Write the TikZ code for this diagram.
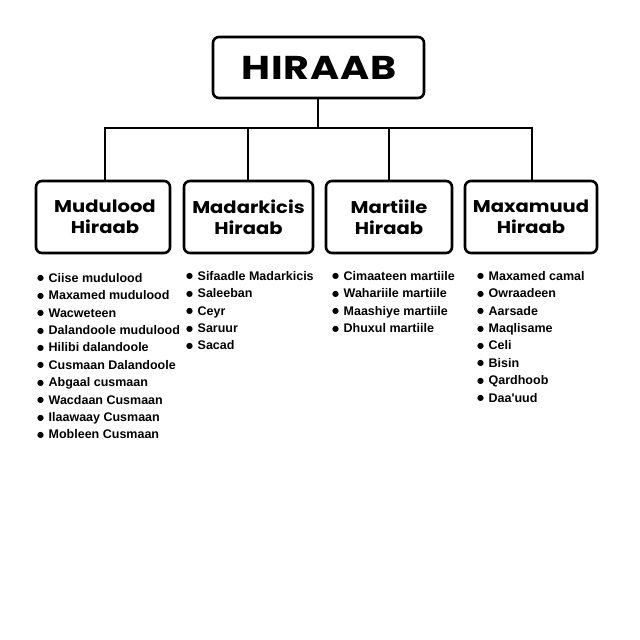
\documentclass[tikz,border=0pt]{standalone}
\usepackage{fontspec}
\newfontfamily\headfont{Poppins}[FakeStretch=1.15]
\newfontfamily\topfont{Poppins}[FakeStretch=1.2,LetterSpace=2]
\newfontfamily\listfont{Liberation Sans}
\newfontfamily\bulfont{DejaVu Sans}
\newcommand\bul{\raisebox{1.3pt}{\bulfont\fontsize{8}{8}\selectfont ●}\hspace{4.5pt}}
\begin{document}
\begin{tikzpicture}[x=1pt,y=-1pt,
  box/.style={draw=black,line width=2.6pt,rounded corners=6pt,fill=white},
  conn/.style={draw=black,line width=2.4pt},
  headtxt/.style={font=\headfont\bfseries\fontsize{17}{21}\selectfont,align=center},
  listtxt/.style={font=\listfont\bfseries\fontsize{12.5}{17.4}\selectfont,align=left,anchor=north west,inner sep=0pt}]
\useasboundingbox[fill=white] (0,0) rectangle (640,640);
% boxes
\draw[box] (213,37) rectangle (424,98);
\node[font=\topfont\bfseries\fontsize{33}{36}\selectfont] (top) at (319,67.5) {HIRAAB};
\coordinate (topb) at (318,98);
\draw[box] (36,181) rectangle (170,253);
\draw[box] (184,181) rectangle (313,253);
\draw[box] (326,181) rectangle (452,253);
\draw[box] (465,181) rectangle (597,253);
\node[headtxt] (c1) at (105,217) {Mudulood\\Hiraab};
\node[headtxt] (c2) at (248.5,217) {Madarkicis\\Hiraab};
\node[headtxt] (c3) at (389,217) {Martiile\\Hiraab};
\node[headtxt] (c4) at (531,217) {Maxamuud\\Hiraab};
\coordinate (j) at (318,128);
\coordinate (j1) at (105,128);
\coordinate (j2) at (248,128);
\coordinate (j3) at (389,128);
\coordinate (j4) at (532,128);
\coordinate (t1) at (105,181);
\coordinate (t2) at (248,181);
\coordinate (t3) at (389,181);
\coordinate (t4) at (532,181);
\draw[conn] (topb) -- (j);
\draw[conn,line cap=rect] (j1) -- (j4);
\draw[conn] (j1) -- (t1);
\draw[conn] (j2) -- (t2);
\draw[conn] (j3) -- (t3);
\draw[conn] (j4) -- (t4);
% lists
\node[listtxt] (l1) at (37,273) {\bul Ciise mudulood\\\bul Maxamed mudulood\\\bul Wacweteen\\\bul Dalandoole mudulood\\\bul Hilibi dalandoole\\\bul Cusmaan Dalandoole\\\bul Abgaal cusmaan\\\bul Wacdaan Cusmaan\\\bul Ilaawaay Cusmaan\\\bul Mobleen Cusmaan};
\node[listtxt] (l2) at (186,271) {\bul Sifaadle Madarkicis\\\bul Saleeban\\\bul Ceyr\\\bul Saruur\\\bul Sacad};
\node[listtxt] (l3) at (332,271) {\bul Cimaateen martiile\\\bul Wahariile martiile\\\bul Maashiye martiile\\\bul Dhuxul martiile};
\node[listtxt] (l4) at (477,271) {\bul Maxamed camal\\\bul Owraadeen\\\bul Aarsade\\\bul Maqlisame\\\bul Celi\\\bul Bisin\\\bul Qardhoob\\\bul Daa'uud};
\end{tikzpicture}
\end{document}
